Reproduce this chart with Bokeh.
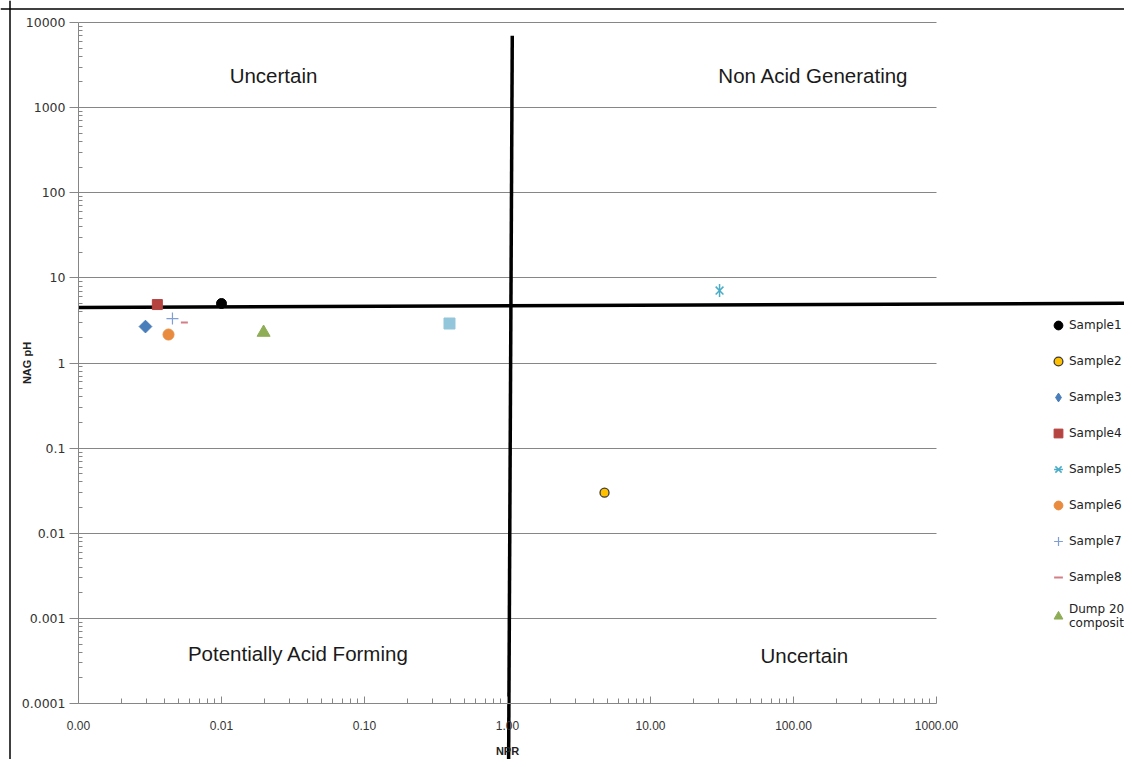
import math
from bokeh.plotting import figure
from bokeh.models import (Range1d, LogAxis, FixedTicker, Grid, Legend, LegendItem,
                          Label, Span)
from bokeh.embed import file_html
from bokeh.resources import INLINE

# ---------------- data ----------------
sample_names = ["Sample1", "Sample2", "Sample3", "Sample4", "Sample5",
                "Sample6", "Sample7", "Sample8", "Dump 20\ncomposite"]
npr = [0.0100, 4.77, 0.00294, 0.00356, 30.4, 0.00426, 0.00454, 0.0055, 0.0197]
nag_ph = [5.0, 0.030, 2.68, 4.86, 7.1, 2.16, 3.33, 2.99, 2.28]

# extra series visible in the plot but cut off from the legend
extra_npr = [0.393]
extra_nag_ph = [2.91]

# classification threshold lines
npr_line_x = [1.08, 1.016]
npr_line_y = [7000.0, 0.00001]
nag_line_x = [0.001, 30000.0]
nag_line_y = [4.5, 5.03]

x_ticks = [0.001, 0.01, 0.1, 1.0, 10.0, 100.0, 1000.0]
x_tick_labels = ["0.00", "0.01", "0.10", "1.00", "10.00", "100.00", "1000.00"]
y_ticks = [0.0001, 0.001, 0.01, 0.1, 1.0, 10.0, 100.0, 1000.0, 10000.0]
y_tick_labels = ["0.0001", "0.001", "0.01", "0.1", "1", "10", "100", "1000", "10000"]

quadrant_texts = ["Uncertain", "Non Acid Generating", "Potentially Acid Forming", "Uncertain"]
quadrant_x = [0.0231, 138.0, 0.0345, 119.0]
quadrant_y = [2380.0, 2380.0, 0.000386, 0.000366]

# ---------------- layout ----------------
W, H = 1124, 759
X_DEC, Y_DEC = 143.0, 85.125      # px per decade
X0_PX, Y0_PX = 78.0, 22.0          # canvas px of x=1e-3 and y=1e4
x_start = 10 ** (-3 - X0_PX / X_DEC)
x_end = 10 ** (-3 + (W - X0_PX) / X_DEC)
y_end = 10 ** (4 + Y0_PX / Y_DEC)
y_start = 10 ** (4 - (H - Y0_PX) / Y_DEC)

p = figure(width=W, height=H, output_backend="svg", toolbar_location=None,
           x_axis_type="log", y_axis_type="log",
           x_axis_location=None, y_axis_location=None,
           x_range=Range1d(x_start, x_end), y_range=Range1d(y_start, y_end),
           min_border=0, outline_line_color=None,
           background_fill_color="white", border_fill_color="white")
p.center = [r for r in p.center if not isinstance(r, Grid)]

axis_gray = "#868686"
x_minor = [m * 10.0 ** e for e in range(-3, 3) for m in range(2, 10)]
y_minor = [m * 10.0 ** e for e in range(-4, 4) for m in range(2, 10)]

xaxis = LogAxis(ticker=FixedTicker(ticks=x_ticks, minor_ticks=x_minor),
                fixed_location=0.0001, bounds=(0.001, 1000.0),
                axis_line_color=axis_gray, major_tick_line_color=axis_gray,
                minor_tick_line_color=axis_gray,
                major_tick_in=7, major_tick_out=0, minor_tick_in=5, minor_tick_out=0,
                major_label_overrides=dict(zip(x_ticks, x_tick_labels)),
                major_label_text_font="Liberation Sans", major_label_text_font_size="12px",
                major_label_text_color="#333333", major_label_standoff=17,
                axis_label="NPR", axis_label_text_font="Liberation Sans",
                axis_label_text_font_size="11px", axis_label_text_font_style="bold",
                axis_label_text_color="#222222", axis_label_standoff=12)
p.add_layout(xaxis, "below")

yaxis = LogAxis(ticker=FixedTicker(ticks=y_ticks, minor_ticks=y_minor),
                fixed_location=0.001, bounds=(0.0001, 10000.0),
                axis_line_color=axis_gray, major_tick_line_color=axis_gray,
                minor_tick_line_color=axis_gray,
                major_tick_in=0, major_tick_out=9, minor_tick_in=4, minor_tick_out=0,
                major_label_overrides=dict(zip(y_ticks, y_tick_labels)),
                major_label_text_font="DejaVu Sans", major_label_text_font_size="12.5px",
                major_label_text_color="#333333", major_label_standoff=4,
                axis_label="NAG pH", axis_label_text_font="Liberation Sans",
                axis_label_text_font_size="11px", axis_label_text_font_style="bold",
                axis_label_text_color="#222222", axis_label_standoff=-14)
p.add_layout(yaxis, "left")

grid = Grid(dimension=1, ticker=FixedTicker(ticks=y_ticks[1:]),
            cross_bounds=(0.001, 1000.0), grid_line_color=axis_gray, grid_line_width=1)
p.add_layout(grid, "center")

# chart border (left and top edges of the Excel chart area)
p.add_layout(Span(location=10 ** (-3 - (X0_PX - 9.5) / X_DEC), dimension="height",
                  line_color="black", line_width=1.5))
p.add_layout(Span(location=10 ** (4 + (Y0_PX - 8.5) / Y_DEC), dimension="width",
                  line_color="black", line_width=1.5))

# threshold lines
p.line(npr_line_x, npr_line_y, line_color="black", line_width=3.5)
p.line(nag_line_x, nag_line_y, line_color="black", line_width=3.5)

# quadrant captions
for t, qx, qy in zip(quadrant_texts, quadrant_x, quadrant_y):
    p.add_layout(Label(x=qx, y=qy, text=t, text_align="center", text_baseline="middle",
                       text_font="Liberation Sans", text_font_size="20.5px",
                       text_color="#1a1a1a"))

# ---------------- markers ----------------
styles = [
    dict(marker="circle", size=10, fill_color="black", line_color="black"),
    dict(marker="circle", size=9, fill_color="#FFC000", line_color="#3a3a3a", line_width=1.3),
    dict(marker="square", angle=math.pi / 4, size=9, fill_color="#4A7EBB", line_color="#4A7EBB"),
    dict(marker="square", size=10, fill_color="#B5433F", line_color="#B5433F"),
    None,
    dict(marker="circle", size=11, fill_color="#E98B3F", line_color="#E98B3F"),
    dict(marker="cross", size=12, line_color="#7F9FD4", line_width=1.2),
    dict(marker="dash", size=7, line_color="#D47F88", line_width=2),
    dict(marker="triangle", size=13, fill_color="#8EAD55", line_color="#8EAD55"),
]

items = []
for i, name in enumerate(sample_names):
    xs, ys = [npr[i]], [nag_ph[i]]
    if styles[i] is None:
        r1 = p.scatter(xs, ys, marker="x", size=11, line_color="#4BACC6", line_width=1.5)
        r2 = p.scatter(xs, ys, marker="dash", angle=math.pi / 2, size=13,
                       line_color="#4BACC6", line_width=1.5)
        rs = [r1, r2]
    else:
        r = p.scatter(xs, ys, **styles[i])
        rs = [r]
        if "angle" in styles[i]:
            # legend glyphs are drawn unrotated: use a diamond proxy for the key
            proxy = p.scatter([float("nan")], [float("nan")], marker="diamond", size=12,
                              fill_color=styles[i]["fill_color"],
                              line_color=styles[i]["line_color"])
            rs = [proxy]
    items.append(LegendItem(label=name, renderers=rs))

p.scatter(extra_npr, extra_nag_ph, marker="square", size=11,
          fill_color="#93C6DA", line_color="#93C6DA")

legend = Legend(items=items, location=(1047, 129), orientation="vertical",
                glyph_width=22, glyph_height=22, label_height=20, spacing=14,
                padding=0, margin=0, label_standoff=-2,
                label_text_font="DejaVu Sans", label_text_font_size="12px",
                label_text_color="#222222",
                background_fill_alpha=0, border_line_color=None)
p.add_layout(legend, "center")

open("out.html", "w").write(file_html(p, INLINE))
